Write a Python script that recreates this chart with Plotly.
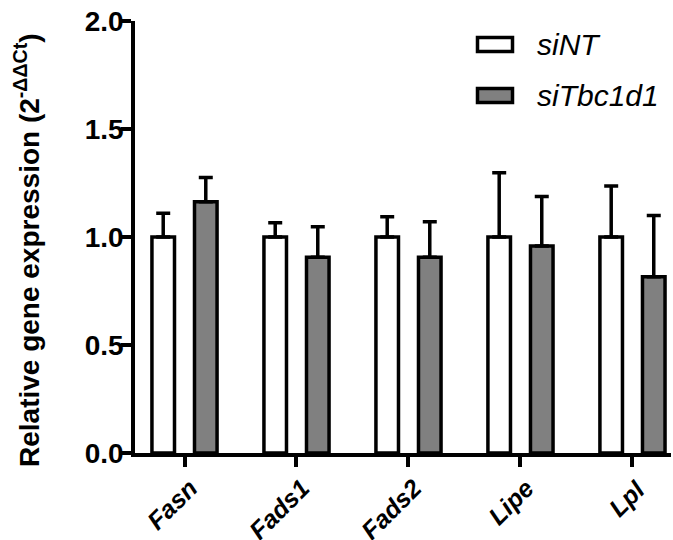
import plotly.graph_objects as go

genes = ["Fasn", "Fads1", "Fads2", "Lipe", "Lpl"]
siNT_mean = [1.0, 1.0, 1.0, 1.0, 1.0]
siNT_err = [0.11, 0.066, 0.094, 0.298, 0.236]
siTbc1d1_mean = [1.163, 0.906, 0.906, 0.958, 0.816]
siTbc1d1_err = [0.112, 0.142, 0.165, 0.229, 0.283]
y_ticks = [0.0, 0.5, 1.0, 1.5, 2.0]
y_ticklabels = ["0.0", "0.5", "1.0", "1.5", "2.0"]

FONT = "Liberation Sans, Arial, Helvetica, sans-serif"

fig = go.Figure()
fig.add_trace(go.Bar(
    x=genes, y=siNT_mean, name="siNT",
    marker=dict(color="white", line=dict(color="black", width=3.5)),
    error_y=dict(type="data", symmetric=False, array=siNT_err,
                 arrayminus=[0] * len(siNT_err), color="black",
                 thickness=3.5, width=7),
    showlegend=False,
))
fig.add_trace(go.Bar(
    x=genes, y=siTbc1d1_mean, name="siTbc1d1",
    marker=dict(color="#808080", line=dict(color="black", width=3.5)),
    error_y=dict(type="data", symmetric=False, array=siTbc1d1_err,
                 arrayminus=[0] * len(siTbc1d1_err), color="black",
                 thickness=3.5, width=7),
    showlegend=False,
))

L, R, T, B = 135, 2, 21, 87
W, H = 673, 540
pw = W - L - R
ph = H - T - B


def px_x(p):
    return (p - L) / pw


def px_y(p):
    return (H - B - p) / ph


shapes = []
annotations = []
legend_items = [("siNT", "white", 44.5), ("siTbc1d1", "#808080", 95.5)]
for name, col, cy in legend_items:
    shapes.append(dict(type="rect", xref="paper", yref="paper",
                       x0=px_x(477.5), x1=px_x(512.5),
                       y0=px_y(cy + 7), y1=px_y(cy - 7),
                       fillcolor=col, line=dict(color="black", width=3.5)))
    annotations.append(dict(xref="paper", yref="paper", x=px_x(535), y=px_y(cy),
                            text=f"<i>{name}</i>", showarrow=False,
                            xanchor="left", yanchor="middle",
                            font=dict(family=FONT, size=30, color="black")))

# rotated category labels
for g in genes:
    annotations.append(dict(xref="x", yref="paper", x=g, y=px_y(471),
                            text=f"<b><i>{g}</i></b>", textangle=-45,
                            showarrow=False, xanchor="right", yanchor="top",
                            xshift=21,
                            font=dict(family=FONT, size=25, color="black")))

annotations.append(dict(xref="paper", yref="paper", x=px_x(27), y=px_y(250),
                        text="<b>Relative gene expression (2<sup>-ΔΔCt</sup>)</b>",
                        textangle=-90, showarrow=False,
                        xanchor="center", yanchor="middle",
                        font=dict(family=FONT, size=28, color="black")))

fig.update_layout(
    width=W, height=H,
    margin=dict(l=L, r=R, t=T, b=B, pad=0, autoexpand=False),
    paper_bgcolor="white", plot_bgcolor="white",
    barmode="group", bargap=0.24, bargroupgap=0.47,
    shapes=shapes, annotations=annotations,
    font=dict(family=FONT, color="black"),
)
fig.update_xaxes(
    type="category", range=[-0.442, 4.344], automargin=False,
    showline=True, linecolor="black", linewidth=3.5,
    ticks="outside", ticklen=10, tickwidth=3.5, tickcolor="black",
    showticklabels=False,
    showgrid=False, zeroline=False,
)
fig.update_yaxes(
    range=[0, 2], tickvals=y_ticks, ticktext=y_ticklabels, automargin=False,
    showline=True, linecolor="black", linewidth=3.5,
    ticks="outside", ticklen=10, tickwidth=3.5, tickcolor="black",
    ticklabelstandoff=-8,
    tickfont=dict(family=FONT, size=28, color="black", weight="bold"),
    showgrid=False, zeroline=False,
)

fig.write_html("out.html")
